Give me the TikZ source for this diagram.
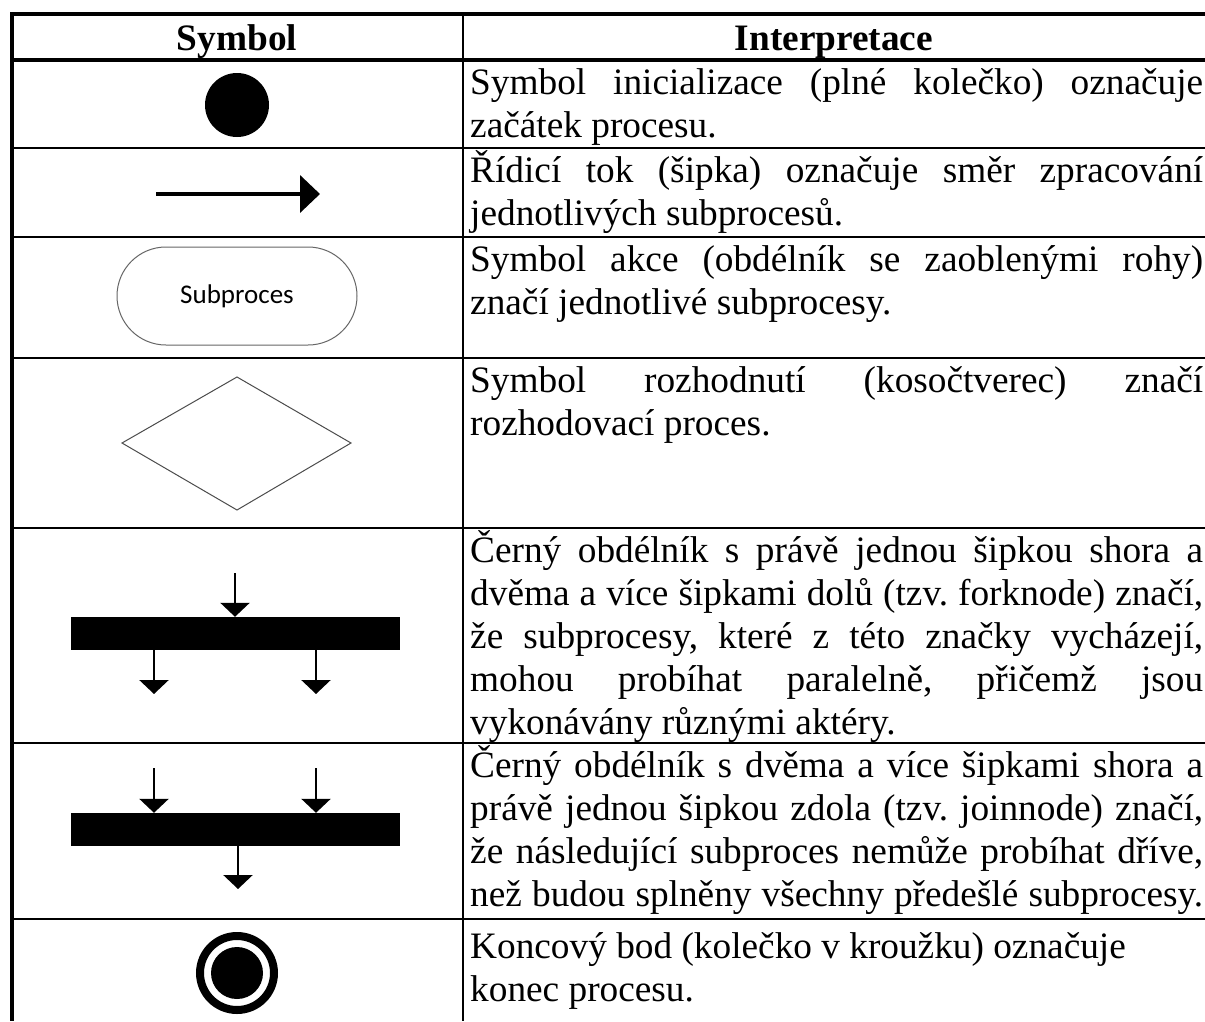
\documentclass[tikz,border=0pt]{standalone}
\usepackage{fontspec}
\setmainfont{Liberation Serif}
\newfontfamily\labelfont{Carlito}
\usetikzlibrary{arrows.meta}
\frenchspacing
% one justified line of the description column
\newcommand\fullline[1]{\makebox[733pt][s]{#1}}

\begin{document}
\begin{tikzpicture}[x=1pt,y=-1pt,
  body/.style={anchor=base west, inner sep=0pt, font=\fontsize{37.3}{43}\selectfont},
  headtext/.style={anchor=base, inner sep=0pt, font=\fontsize{37.3}{43}\selectfont\bfseries},
  rowrule/.style={line width=2.7pt},
  flow/.style={line width=4pt, -{Triangle[length=20pt,width=37pt]}},
  bararrow/.style={line width=2.5pt, -{Triangle[length=14pt,width=29pt]}},
  barbox/.style={fill=black, inner sep=0pt, minimum width=329pt, minimum height=33pt},
]
\useasboundingbox (0,0) rectangle (1205,1021);
\fill[white] (0,0) rectangle (1205,1021);

% table frame and rules
\draw[line width=4.5pt] (10,14) -- (1205,14);
\draw[line width=4pt] (12,12) -- (12,1021);
\draw[line width=3.5pt] (12,60) -- (1205,60);
\foreach \y in {148,237,358,528,743,919} \draw[rowrule] (12,\y) -- (1205,\y);
\draw[rowrule] (463,14) -- (463,1021);

% header
\node[headtext] (hsym) at (237,50) {Symbol};
\node[headtext] (hint) at (834,50) {Interpretace};

% initial node
\node[circle, fill=black, inner sep=0pt, minimum size=64pt] (initial) at (237,105) {};
\node[body] (t1a) at (470,94) {\fullline{Symbol inicializace (plné kolečko) označuje}};
\node[body] (t1b) at (470,137) {začátek procesu.};

% control flow
\coordinate (flowstart) at (156,194);
\coordinate (flowend) at (320,194);
\draw[flow] (flowstart) -- (flowend);
\node[body] (t2a) at (470,182) {\fullline{Řídicí tok (šipka) označuje směr zpracování}};
\node[body] (t2b) at (470,225) {jednotlivých subprocesů.};

% action
\node[draw=black!60, line width=1pt, rounded corners=49pt, minimum width=240pt,
      minimum height=98pt, inner sep=0pt,
      font=\labelfont\fontsize{27}{31}\selectfont] (action) at (237,296) {Subproces};
\node[body] (t3a) at (470,271) {\fullline{Symbol akce (obdélník se zaoblenými rohy)}};
\node[body] (t3b) at (470,314) {značí jednotlivé subprocesy.};

% decision
\coordinate (dtop) at (237,377);
\coordinate (dright) at (351,443);
\coordinate (dbottom) at (237,510);
\coordinate (dleft) at (122,443);
\draw[black!70, line width=1pt] (dtop) -- (dright) -- (dbottom) -- (dleft) -- cycle;
\node[body] (t4a) at (470,392) {\fullline{Symbol rozhodnutí (kosočtverec) značí}};
\node[body] (t4b) at (470,435) {rozhodovací proces.};

% fork node
\node[barbox] (forkbar) at (235.5,633.5) {};
\coordinate (forkin) at (235,573);
\coordinate (forkout1) at (154,694);
\coordinate (forkout2) at (316,694);
\draw[bararrow] (forkin) -- (forkin |- forkbar.north);
\draw[bararrow] (forkout1 |- forkbar.south) -- (forkout1);
\draw[bararrow] (forkout2 |- forkbar.south) -- (forkout2);
\node[body] (t5a) at (470,562) {\fullline{Černý obdélník s právě jednou šipkou shora a}};
\node[body] (t5b) at (470,605) {\fullline{dvěma a více šipkami dolů (tzv. forknode) značí,}};
\node[body] (t5c) at (470,648) {\fullline{že subprocesy, které z této značky vycházejí,}};
\node[body] (t5d) at (470,691) {\fullline{mohou probíhat paralelně, přičemž jsou}};
\node[body] (t5e) at (470,734) {vykonávány různými aktéry.};

% join node
\node[barbox] (joinbar) at (235.5,829.5) {};
\coordinate (joinin1) at (154,768);
\coordinate (joinin2) at (316,768);
\coordinate (joinout) at (238,889);
\draw[bararrow] (joinin1) -- (joinin1 |- joinbar.north);
\draw[bararrow] (joinin2) -- (joinin2 |- joinbar.north);
\draw[bararrow] (joinout |- joinbar.south) -- (joinout);
\node[body] (t6a) at (470,777) {\fullline{Černý obdélník s dvěma a více šipkami shora a}};
\node[body] (t6b) at (470,820) {\fullline{právě jednou šipkou zdola (tzv. joinnode) značí,}};
\node[body] (t6c) at (470,863) {\fullline{že následující subproces nemůže probíhat dříve,}};
\node[body] (t6d) at (470,906) {\fullline{než budou splněny všechny předešlé subprocesy.}};

% final node
\node[circle, draw=black, line width=8pt, inner sep=0pt, minimum size=74pt] (final) at (237,973) {};
\node[circle, fill=black, inner sep=0pt, minimum size=52pt] (finalcore) at (final.center) {};
\node[body] (t7a) at (470,958) {Koncový bod (kolečko v kroužku) označuje};
\node[body] (t7b) at (470,1001) {konec procesu.};
\end{tikzpicture}
\end{document}
